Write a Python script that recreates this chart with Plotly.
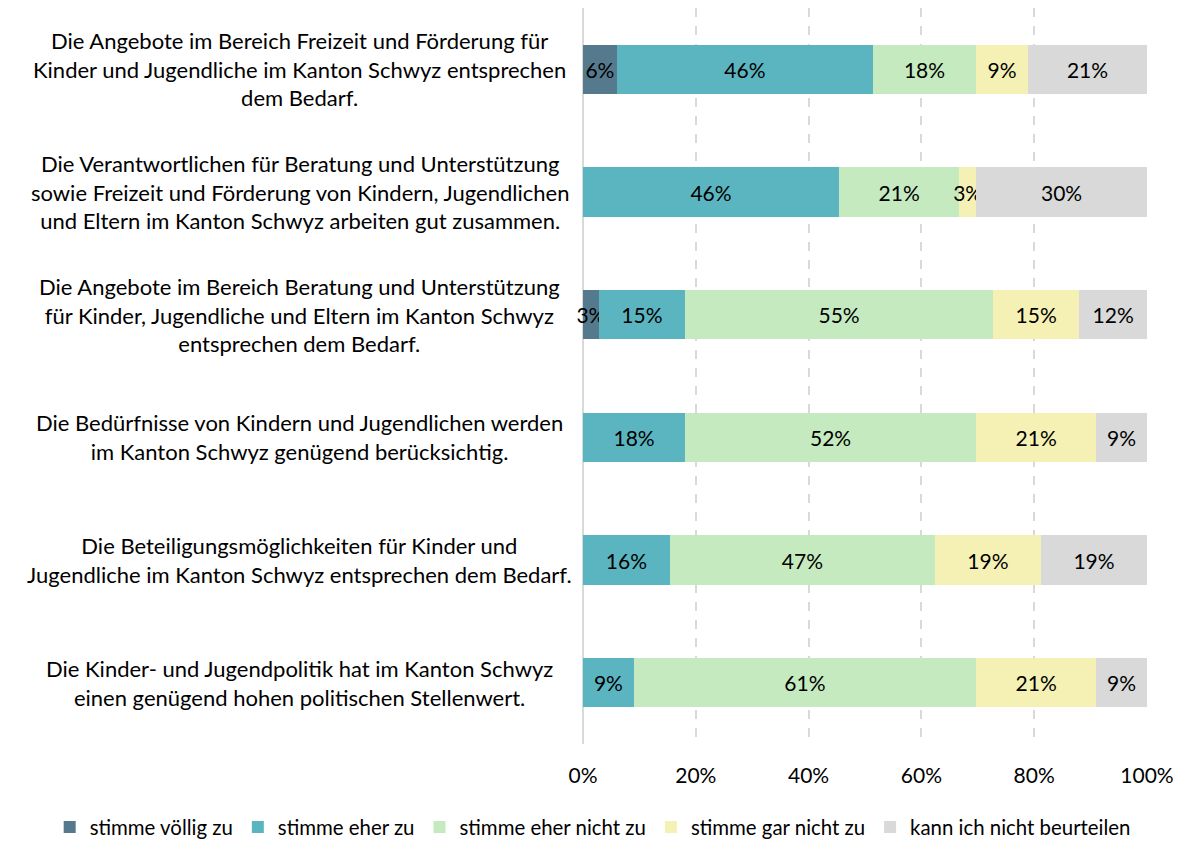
import plotly.graph_objects as go

categories = [
    "Die Angebote im Bereich Freizeit und Förderung für<br>Kinder und Jugendliche im Kanton Schwyz entsprechen<br>dem Bedarf.",
    "Die Verantwortlichen für Beratung und Unterstützung<br>sowie Freizeit und Förderung von Kindern, Jugendlichen<br>und Eltern im Kanton Schwyz arbeiten gut zusammen.",
    "Die Angebote im Bereich Beratung und Unterstützung<br>für Kinder, Jugendliche und Eltern im Kanton Schwyz<br>entsprechen dem Bedarf.",
    "Die Bedürfnisse von Kindern und Jugendlichen werden<br>im Kanton Schwyz genügend berücksichtig.",
    "Die Beteiligungsmöglichkeiten für Kinder und<br>Jugendliche im Kanton Schwyz entsprechen dem Bedarf.",
    "Die Kinder- und Jugendpolitik hat im Kanton Schwyz<br>einen genügend hohen politischen Stellenwert.",
]
cat_ids = ["c1", "c2", "c3", "c4", "c5", "c6"]

series_names = ["stimme völlig zu", "stimme eher zu", "stimme eher nicht zu",
                "stimme gar nicht zu", "kann ich nicht beurteilen"]

voellig = [6.0, 0, 2.8, 0, 0, 0]
eher = [45.4, 45.4, 15.3, 18.1, 15.4, 9.0]
eher_nicht = [18.3, 21.3, 54.6, 51.6, 47.0, 60.7]
gar_nicht = [9.2, 3.0, 15.3, 21.3, 18.8, 21.3]
kann_nicht = [21.1, 30.3, 12.0, 9.0, 18.8, 9.0]

voellig_lbl = ["6%", "", "3%", "", "", ""]
eher_lbl = ["46%", "46%", "15%", "18%", "16%", "9%"]
eher_nicht_lbl = ["18%", "21%", "55%", "52%", "47%", "61%"]
gar_nicht_lbl = ["9%", "3%", "15%", "21%", "19%", "21%"]
kann_nicht_lbl = ["21%", "30%", "12%", "9%", "19%", "9%"]

colors = ["#557A8E", "#5BB5C1", "#C5EABF", "#F5F1B5", "#D9D9D9"]

values = [voellig, eher, eher_nicht, gar_nicht, kann_nicht]
labels = [voellig_lbl, eher_lbl, eher_nicht_lbl, gar_nicht_lbl, kann_nicht_lbl]

FONT = "Lato"

fig = go.Figure()
for name, vals, lbls, col in zip(series_names, values, labels, colors):
    fig.add_trace(go.Bar(
        y=cat_ids, x=vals, name=name, orientation="h",
        marker=dict(color=col, line=dict(width=0)),
        text=lbls, textposition="inside", insidetextanchor="middle",
        textangle=0, textfont=dict(size=21, color="black", family=FONT),
        cliponaxis=False,
    ))

for cid, txt in zip(cat_ids, categories):
    fig.add_annotation(
        x=-0.502, xref="paper", y=cid, yref="y", text=txt,
        showarrow=False, xanchor="center", yanchor="middle", align="center",
        font=dict(size=22, color="black", family=FONT),
    )

fig.update_layout(
    barmode="stack", bargap=0.6,
    width=1182, height=841,
    margin=dict(l=575, r=43, t=0, b=105, autoexpand=False),
    plot_bgcolor="white", paper_bgcolor="white",
    font=dict(family=FONT, size=21, color="black"),
    uniformtext=dict(minsize=21, mode="show"),
    xaxis=dict(range=[0, 100], tickvals=[0, 20, 40, 60, 80, 100],
               ticktext=["0%", "20%", "40%", "60%", "80%", "100%"],
               showgrid=True, gridcolor="#D9D9D9", gridwidth=1.5, griddash="dash",
               zeroline=True, zerolinecolor="#D9D9D9", zerolinewidth=2,
               showline=False, ticks="", tickfont=dict(size=21, family=FONT),
               ticklabelstandoff=17, fixedrange=True, automargin=False),
    yaxis=dict(autorange="reversed", showticklabels=False, showgrid=False,
               zeroline=False, showline=False, ticks="", automargin=False),
    legend=dict(orientation="h", xref="paper", yref="paper",
                x=-0.9456, xanchor="left", y=-0.113, yanchor="middle",
                font=dict(size=20.4, family=FONT), traceorder="normal",
                bgcolor="rgba(0,0,0,0)", itemwidth=30, tracegroupgap=0),
)

fig.write_html("out.html")
